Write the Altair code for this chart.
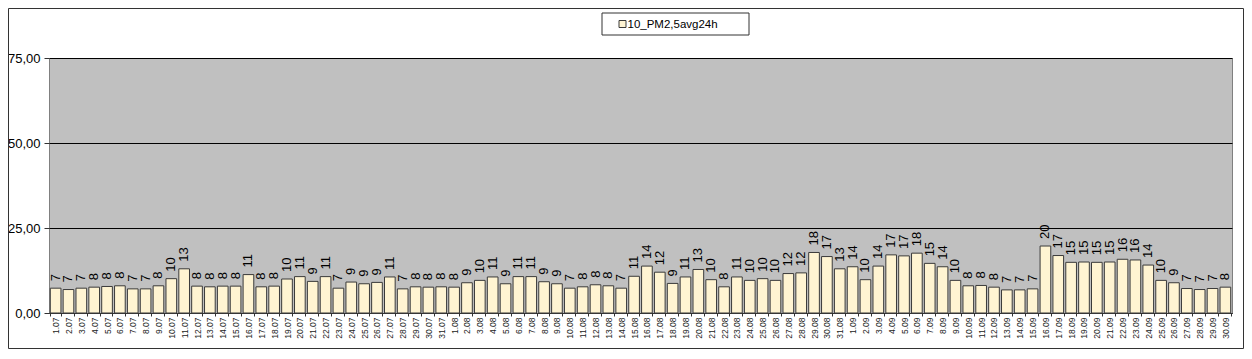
import altair as alt
import pandas as pd

series_name = "10_PM2,5avg24h"

days_jul = [f"{d}.07" for d in range(1, 32)]
days_aug = [f"{d}.08" for d in range(1, 32)]
days_sep = [f"{d}.09" for d in range(1, 31)]

pm_jul = [7.3, 6.9, 7.3, 7.6, 7.8, 8.0, 7.1, 7.1, 8.0, 10.1,
          13.0, 7.9, 7.7, 7.9, 7.9, 11.3, 7.7, 7.9, 10.0, 10.7,
          9.3, 10.7, 7.3, 9.1, 8.6, 9.0, 10.6, 7.1, 7.7, 7.6, 7.7]
pm_aug = [7.6, 8.9, 9.6, 10.6, 8.6, 10.7, 10.7, 9.2, 8.6, 7.3,
          7.7, 8.3, 8.0, 7.3, 10.8, 13.8, 12.0, 8.7, 10.6, 12.8,
          9.8, 7.7, 10.6, 9.6, 10.1, 9.6, 11.6, 11.8, 17.8, 16.6, 13.0]
pm_sep = [13.6, 9.8, 13.8, 17.1, 16.8, 17.6, 14.6, 13.6, 9.6, 8.0,
          8.1, 7.6, 6.8, 6.8, 7.1, 19.7, 16.9, 14.9, 15.0, 14.9,
          15.0, 15.8, 15.6, 14.1, 9.6, 8.9, 7.2, 6.9, 7.2, 7.6]

y_ticks = [0, 25, 50, 75]

df = pd.DataFrame({"date": days_jul + days_aug + days_sep,
                   "value": pm_jul + pm_aug + pm_sep})

W, H = 1183, 255
FONT = "Liberation Sans"
BAR_FILL = "#FFF4D2"
BAR_STROKE = "#3a3a3a"

x_enc = alt.X("date:N", sort=None, title=None,
              scale=alt.Scale(paddingInner=0.17, paddingOuter=0.1),
              axis=alt.Axis(labelAngle=270, labelFontSize=8.5, labelFont=FONT,
                            labelColor="#222222", labelPadding=1,
                            tickBand="extent", tickSize=3, tickColor="#333333",
                            domainColor="#333333", labelOverlap=False))
y_enc = alt.Y("value:Q", title=None,
              scale=alt.Scale(domain=[0, 75], nice=False),
              axis=alt.Axis(values=y_ticks, grid=True, gridColor="black",
                            gridOpacity=1, gridWidth=1, domain=False,
                            tickColor="#333333", tickSize=5,
                            labelFontSize=13, labelFont=FONT, labelColor="black",
                            labelPadding=4,
                            labelExpr="replace(format(datum.value, '.2f'), '.', ',')"))

base = alt.Chart(df)
bars = base.mark_bar(fill=BAR_FILL, stroke=BAR_STROKE, strokeWidth=1).encode(
    x=x_enc, y=y_enc)
labels = base.mark_text(angle=270, align="left", baseline="middle", dx=7,
                        fontSize=13, font=FONT, color="black").encode(
    x=alt.X("date:N", sort=None), y=alt.Y("value:Q"),
    text=alt.Text("value:Q", format=".0f"))

one = pd.DataFrame({"name": [series_name]})
legend_box = alt.Chart(one).mark_rect(fill="white", stroke="#333333", strokeWidth=1).encode(
    x=alt.value(553), x2=alt.value(700), y=alt.value(-45), y2=alt.value(-23))
legend_sym = alt.Chart(one).mark_rect(fill=BAR_FILL, stroke=BAR_STROKE, strokeWidth=1).encode(
    x=alt.value(570), x2=alt.value(577), y=alt.value(-37.5), y2=alt.value(-30.5))
legend_txt = alt.Chart(one).mark_text(align="left", baseline="middle", fontSize=11.5,
                                      font=FONT, color="black").encode(
    x=alt.value(578.5), y=alt.value(-33.5), text="name:N")
outer = alt.Chart(one).mark_rect(fill=None, stroke="#333333", strokeWidth=1).encode(
    x=alt.value(-40.5), x2=alt.value(W + 11.5), y=alt.value(-49.5), y2=alt.value(H + 35.5))

chart = alt.layer(outer, bars, labels, legend_box, legend_sym, legend_txt).properties(
    width=W, height=H,
    padding={"left": 41, "top": 50, "right": 12, "bottom": 36},
    autosize=alt.AutoSizeParams(type="none"),
    background="white",
).configure_view(fill="#C0C0C0", stroke="#808080", strokeWidth=1)

chart.save("out.html", embed_options={"renderer": "svg", "actions": False})
